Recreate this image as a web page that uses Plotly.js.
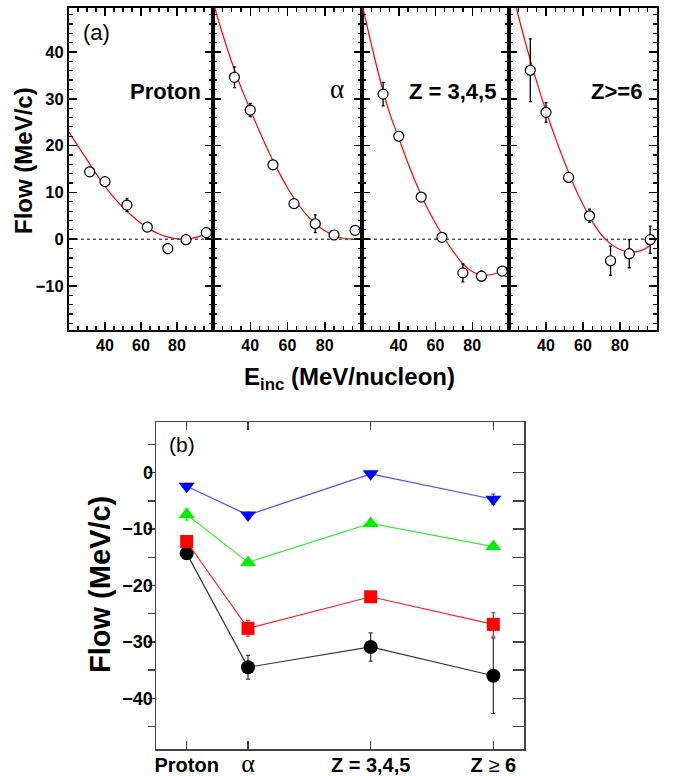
<!DOCTYPE html>
<html><head><meta charset="utf-8">
<script src="https://cdn.plot.ly/plotly-3.0.1.min.js"></script>
<style>html,body{margin:0;padding:0;background:#fff}#chart{width:675px;height:776px}</style>
</head><body><div id="chart"></div>
<script>
// ---------- Panel (a) data ----------
const energy = [31.5, 40, 52.2, 63.5, 74.9, 85, 96.3];
const flowProton = [14.4, 12.3, 7.3, 2.6, -2.0, -0.1, 1.4];
const errProton  = [0.6, 0.6, 1.4, 0.5, 1.1, 0.5, 0.5];
const flowAlpha  = [34.6, 27.6, 15.9, 7.6, 3.3, 0.9, 1.9];
const errAlpha   = [2.2, 1.4, 1.0, 0.5, 1.9, 0.5, 0.4];
const flowZ345   = [31.0, 22.0, 9.0, 0.4, -7.2, -7.9, -6.8];
const errZ345    = [2.5, 0.5, 0.5, 0.5, 1.9, 1.1, 0.6];
const flowZ6     = [36.1, 27.1, 13.2, 5.0, -4.6, -3.1, -0.1];
const errZ6      = [6.7, 2.1, 0.5, 1.4, 3.1, 3.0, 2.9];

const fitEnergy = [20, 25, 30, 35, 40, 45, 50, 55, 60, 65, 70, 75, 80, 85, 90, 95, 100];
const fitProton = [22.9, 19.9, 17.0, 14.0, 11.3, 8.9, 6.8, 5.0, 3.4, 2.1, 1.1, 0.45, 0.1, 0.05, 0.35, 0.95, 1.6];
const fitAlpha  = [50.8, 44.0, 37.9, 32.5, 27.7, 23.0, 18.6, 14.6, 11.0, 7.9, 5.3, 3.3, 1.8, 0.8, 0.2, 0.0, 0.05];
const fitZ345   = [50.3, 41.8, 33.8, 27.0, 21.6, 16.3, 11.4, 7.1, 3.4, 0.1, -2.8, -5.3, -6.9, -7.7, -7.6, -7.0, -6.0];
const fitZ6     = [55.8, 47.8, 40.4, 33.6, 27.4, 21.7, 16.5, 11.6, 7.4, 3.8, 0.9, -1.0, -2.2, -2.7, -2.6, -1.7, 0.1];

const panelLabels = ['<b>Proton</b>', '<span style="font-family:Liberation Serif">α</span>', '<b>Z = 3,4,5</b>', '<b>Z>=6</b>'];
const xTickVals = [20, 40, 60, 80, 100];
const xTickText = [' ', '40', '60', '80', ' '];

// ---------- Panel (b) data ----------
const bCharge = [1, 2, 4, 6];
const bLabels = ['<b>Proton</b>', '<span style="font-family:Liberation Serif;font-size:26px">α</span>', '<b>Z = 3,4,5</b>', '<b>Z</b> ≥ <b>6</b>'];
const flowBlack = [-14.3, -34.5, -30.9, -36.0];
const errBlack  = [0.5, 2.1, 2.5, 6.7];
const flowRed   = [-12.2, -27.6, -22.0, -26.9];
const errRed    = [0.5, 1.4, 0.5, 2.1];
const flowGreen = [-7.4, -15.9, -9.0, -13.1];
const errGreen  = [1.0, 0.5, 0.5, 0.5];
const flowBlue  = [-2.4, -7.5, -0.2, -4.7];
const errBlue   = [0.5, 0.5, 0.5, 0.9];
const bYTicks = [-45, -40, -35, -30, -25, -20, -15, -10, -5, 0, 5];
const bYText  = [' ', '−40', ' ', '−30', ' ', '−20', ' ', '−10', ' ', '0', ' '];

// ---------- geometry helpers ----------
const W = 675, H = 776;
const fx = p => p / W;
const fy = p => 1 - p / H;
const edges = [69, 213, 362, 509, 657];

const FONT = 'Liberation Sans, Arial, Helvetica, sans-serif';
const traces = [];
const layout = {
  width: W, height: H,
  margin: {l: 0, r: 0, t: 0, b: 0},
  paper_bgcolor: '#fff', plot_bgcolor: 'rgba(0,0,0,0)',
  showlegend: false,
  font: {family: FONT, color: '#000'},
  shapes: [], annotations: []
};

const flows = [flowProton, flowAlpha, flowZ345, flowZ6];
const errs = [errProton, errAlpha, errZ345, errZ6];
const fits = [fitProton, fitAlpha, fitZ345, fitZ6];

for (let i = 0; i < 4; i++) {
  const xs = i === 0 ? 'x' : 'x' + (i + 1);
  const ys = i === 0 ? 'y' : 'y' + (i + 1);
  traces.push({x: fitEnergy, y: fits[i], xaxis: xs, yaxis: ys, mode: 'lines',
    line: {color: '#ff0000', width: 1.2, shape: 'spline'}, hoverinfo: 'skip'});
  traces.push({x: energy, y: flows[i], xaxis: xs, yaxis: ys, mode: 'markers',
    marker: {symbol: 'circle', size: 10, color: '#fff', line: {color: '#000', width: 1.2}},
    error_y: {type: 'data', array: errs[i], visible: true, color: '#000', thickness: 1.3, width: 1.5}});
  const xk = i === 0 ? 'xaxis' : 'xaxis' + (i + 1);
  const yk = i === 0 ? 'yaxis' : 'yaxis' + (i + 1);
  layout[xk] = {
    domain: [fx(edges[i]), fx(edges[i + 1])], anchor: ys, range: [20, 100],
    tickmode: 'array', tickvals: xTickVals, ticktext: xTickText,
    ticks: 'inside', ticklen: 8, tickwidth: 1.5, tickcolor: '#000',
    minor: {tickmode: 'linear', tick0: 0, dtick: 5, ticks: 'inside', ticklen: 4, tickwidth: 1.2, tickcolor: '#000'},
    showline: true, linewidth: 2, linecolor: '#000', mirror: 'ticks',
    showgrid: false, zeroline: false,
    tickfont: {family: FONT, size: 16, weight: 'bold', color: '#000'}, ticklabelstandoff: 0
  };
  layout[yk] = {
    domain: [fy(330), fy(8)], anchor: xs, range: [-19.4, 49.4],
    tickmode: 'linear', tick0: 0, dtick: 10,
    ticks: 'inside', ticklen: 8, tickwidth: 1.5, tickcolor: '#000',
    minor: {tickmode: 'linear', tick0: 0, dtick: 2, ticks: 'inside', ticklen: 4, tickwidth: 1.2, tickcolor: '#000'},
    showline: true, linewidth: 2, linecolor: '#000', mirror: 'ticks',
    showgrid: false, zeroline: false, showticklabels: i === 0,
    tickfont: {family: FONT, size: 16.5, weight: 'bold', color: '#000'}
  };
  layout.shapes.push({type: 'line', xref: xs + ' domain', yref: ys, x0: 0, x1: 1, y0: 0, y1: 0,
    line: {color: '#000', width: 1, dash: 'dot'}, layer: 'below'});
}

// panel name annotations
const labelRight = [203, null, 498, 644];
layout.annotations.push({xref: 'paper', yref: 'paper', x: fx(labelRight[0]), y: fy(91), xanchor: 'right', yanchor: 'middle', text: panelLabels[0], showarrow: false, font: {size: 22}});
layout.annotations.push({xref: 'paper', yref: 'paper', x: fx(337), y: fy(89), xanchor: 'center', yanchor: 'middle', text: panelLabels[1], showarrow: false, font: {size: 27}});
layout.annotations.push({xref: 'paper', yref: 'paper', x: fx(labelRight[2]), y: fy(91), xanchor: 'right', yanchor: 'middle', text: panelLabels[2], showarrow: false, font: {size: 22}});
layout.annotations.push({xref: 'paper', yref: 'paper', x: fx(labelRight[3]), y: fy(91), xanchor: 'right', yanchor: 'middle', text: panelLabels[3], showarrow: false, font: {size: 22}});
layout.annotations.push({xref: 'paper', yref: 'paper', x: fx(81), y: fy(33), xanchor: 'left', yanchor: 'middle', text: '(a)', showarrow: false, font: {size: 22}});
layout.annotations.push({xref: 'paper', yref: 'paper', x: fx(23), y: fy(161), xanchor: 'center', yanchor: 'middle', text: '<b>Flow (MeV/c)</b>', textangle: -90, showarrow: false, font: {size: 24}});
layout.annotations.push({xref: 'paper', yref: 'paper', x: fx(349), y: fy(378), xanchor: 'center', yanchor: 'middle', text: '<b>E<sub>inc</sub> (MeV/nucleon)</b>', showarrow: false, font: {size: 24}});

// ---------- Panel (b) ----------
const bSeries = [
  {y: flowBlack, e: errBlack, c: '#000000', lc: '#333333', sym: 'circle', size: 14},
  {y: flowRed, e: errRed, c: '#ff0000', lc: '#ff2020', sym: 'square', size: 13},
  {y: flowGreen, e: errGreen, c: '#00ee00', lc: '#33ee33', sym: 'triangle-up', size: 14},
  {y: flowBlue, e: errBlue, c: '#0000ff', lc: '#4a4aff', sym: 'triangle-down', size: 14}
];
bSeries.forEach(s => {
  traces.push({x: bCharge, y: s.y, xaxis: 'x5', yaxis: 'y5', mode: 'lines+markers',
    line: {color: s.lc, width: 1.2},
    marker: {symbol: s.sym, size: s.size, color: s.c},
    error_y: {type: 'data', array: s.e, visible: true, color: s.lc, thickness: 1.2, width: 2}});
});
traces.push({x: bCharge, y: bCharge.map(() => null), xaxis: 'x5', yaxis: 'y6', mode: 'markers', hoverinfo: 'skip'});

layout.xaxis5 = {
  domain: [fx(156), fx(524)], anchor: 'y5', range: [0.5, 6.5],
  tickmode: 'array', tickvals: bCharge, ticktext: bLabels,
  ticks: 'inside', ticklen: 8, tickwidth: 1.3, tickcolor: '#444',
  showline: true, linewidth: 1.5, linecolor: '#444', mirror: 'ticks',
  showgrid: false, zeroline: false,
  tickfont: {family: FONT, size: 20, color: '#000'}, ticklabelstandoff: -3
};
layout.yaxis5 = {
  domain: [fy(749), fy(422)], anchor: 'x5', range: [-49, 9],
  tickmode: 'array', tickvals: bYTicks, ticktext: bYText,
  ticks: 'outside', ticklen: 7, tickwidth: 1.3, tickcolor: '#444',
  showline: true, linewidth: 1.5, linecolor: '#444',
  showgrid: false, zeroline: false,
  tickfont: {family: FONT, size: 18, weight: 'bold', color: '#000'}, ticklabelstandoff: -9
};
layout.yaxis6 = {
  overlaying: 'y5', anchor: 'x5', side: 'right', range: [-49, 9],
  tickmode: 'array', tickvals: bYTicks,
  ticks: 'inside', ticklen: 11, tickwidth: 1.3, tickcolor: '#444',
  showline: true, linewidth: 1.5, linecolor: '#444',
  showgrid: false, zeroline: false, showticklabels: false
};
layout.annotations.push({xref: 'paper', yref: 'paper', x: fx(167), y: fy(445), xanchor: 'left', yanchor: 'middle', text: '(b)', showarrow: false, font: {size: 21}});
layout.annotations.push({xref: 'paper', yref: 'paper', x: fx(100), y: fy(585), xanchor: 'center', yanchor: 'middle', text: '<b>Flow (MeV/c)</b>', textangle: -90, showarrow: false, font: {size: 29}});

Plotly.newPlot('chart', traces, layout, {staticPlot: true, displayModeBar: false});
</script>
</body></html>
